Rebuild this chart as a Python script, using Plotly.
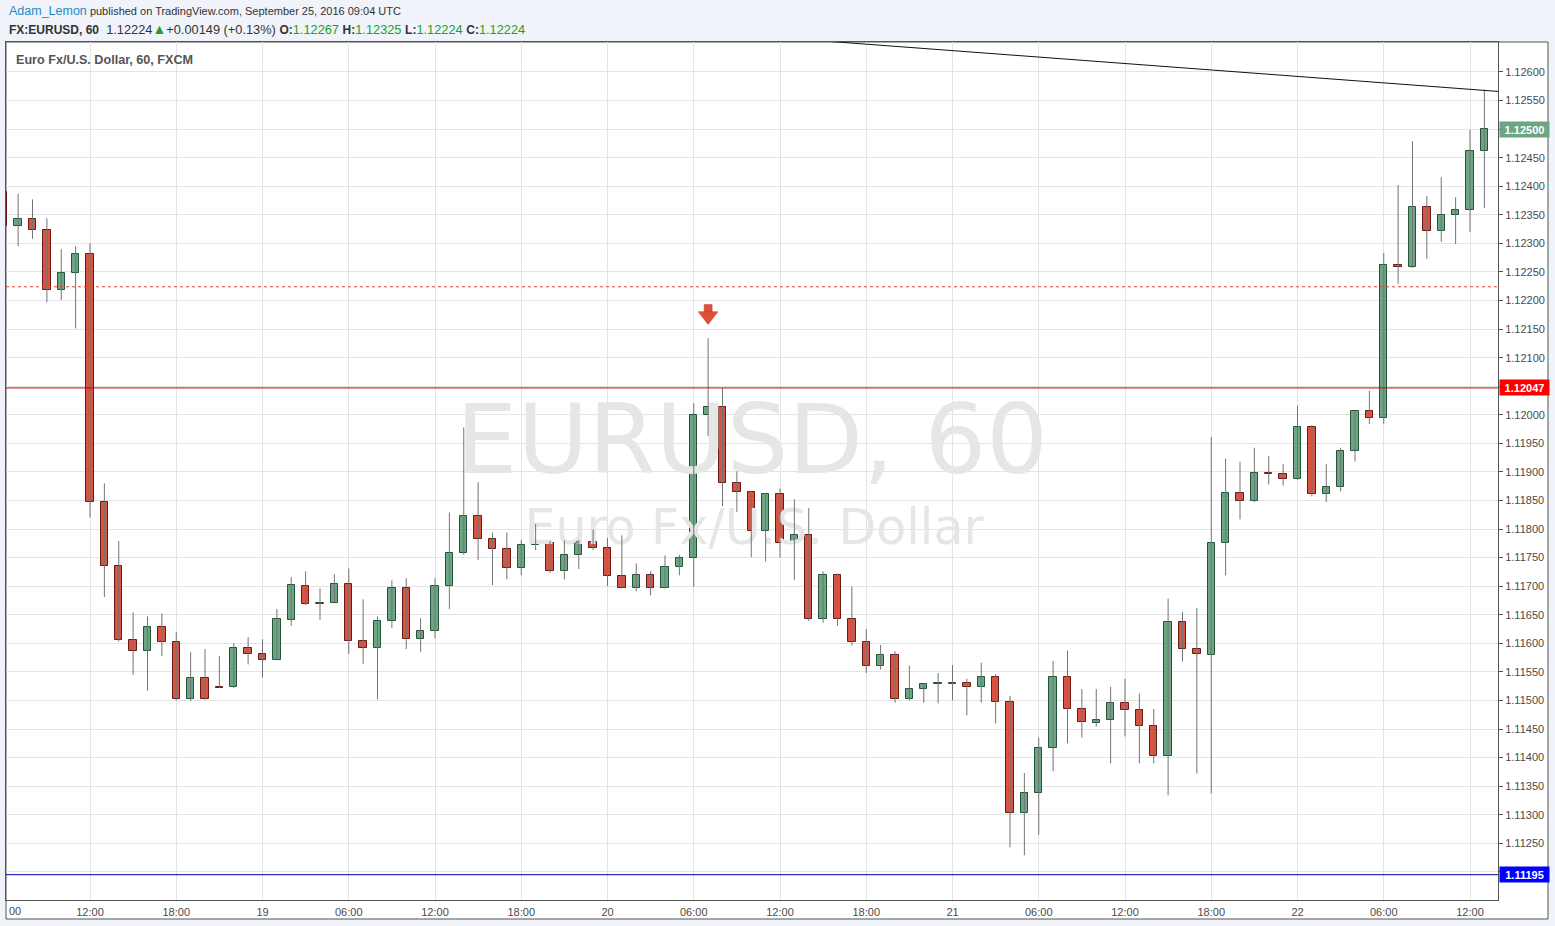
import plotly.graph_objects as go
import pandas as pd

# ---------------- data ----------------
start_time = "2016-09-18 06:00"   # first hourly candle (partly hidden at left edge)

opens = [1.12390, 1.12331, 1.12343, 1.12324, 1.12219, 1.12248, 1.12282, 1.11848, 1.11735, 1.11605,
         1.11586, 1.11629, 1.11602, 1.11502, 1.11539, 1.11524, 1.11523, 1.11591, 1.11581, 1.11571,
         1.11640, 1.11700, 1.11669, 1.11671, 1.11704, 1.11604, 1.11592, 1.11639, 1.11697, 1.11608,
         1.11622, 1.11701, 1.11758, 1.11823, 1.11783, 1.11765, 1.11732, 1.11772, 1.11775, 1.11727,
         1.11755, 1.11778, 1.11767, 1.11718, 1.11697, 1.11720, 1.11697, 1.11734, 1.11750, 1.11999,
         1.12014, 1.11880, 1.11864, 1.11797, 1.11862, 1.11775, 1.11789, 1.11642, 1.11719, 1.11642,
         1.11603, 1.11561, 1.11580, 1.11502, 1.11520, 1.11528, 1.11529, 1.11530, 1.11523, 1.11541,
         1.11497, 1.11303, 1.11338, 1.11416, 1.11541, 1.11485, 1.11461, 1.11465, 1.11495, 1.11483,
         1.11455, 1.11402, 1.11637, 1.11590, 1.11580, 1.11775, 1.11863, 1.11849, 1.11898, 1.11896,
         1.11887, 1.11978, 1.11861, 1.11873, 1.11936, 1.12006, 1.11994, 1.12263, 1.12258, 1.12363,
         1.12322, 1.12350, 1.12359, 1.12462]
highs = [1.12395, 1.12387, 1.12377, 1.12344, 1.12290, 1.12295, 1.12300, 1.11880, 1.11779, 1.11654,
         1.11647, 1.11652, 1.11620, 1.11585, 1.11590, 1.11578, 1.11600, 1.11611, 1.11607, 1.11660,
         1.11716, 1.11726, 1.11696, 1.11721, 1.11731, 1.11677, 1.11647, 1.11710, 1.11714, 1.11644,
         1.11714, 1.11829, 1.11978, 1.11882, 1.11794, 1.11794, 1.11781, 1.11809, 1.11779, 1.11780,
         1.11781, 1.11799, 1.11784, 1.11789, 1.11740, 1.11726, 1.11754, 1.11755, 1.12020, 1.12134,
         1.12047, 1.11901, 1.11867, 1.11863, 1.11871, 1.11852, 1.11837, 1.11726, 1.11722, 1.11699,
         1.11625, 1.11597, 1.11586, 1.11561, 1.11530, 1.11548, 1.11562, 1.11538, 1.11566, 1.11546,
         1.11508, 1.11373, 1.11435, 1.11569, 1.11587, 1.11520, 1.11520, 1.11524, 1.11538, 1.11512,
         1.11485, 1.11678, 1.11655, 1.11662, 1.11961, 1.11923, 1.11918, 1.11942, 1.11928, 1.11914,
         1.12016, 1.11982, 1.11914, 1.11942, 1.12007, 1.12042, 1.12283, 1.12402, 1.12479, 1.12383,
         1.12416, 1.12381, 1.12499, 1.12569]
lows = [1.12328, 1.12295, 1.12308, 1.12197, 1.12201, 1.12151, 1.11820, 1.11681, 1.11603, 1.11545,
        1.11517, 1.11578, 1.11500, 1.11499, 1.11501, 1.11522, 1.11522, 1.11563, 1.11540, 1.11570,
        1.11631, 1.11667, 1.11641, 1.11670, 1.11581, 1.11564, 1.11502, 1.11627, 1.11590, 1.11585,
        1.11609, 1.11660, 1.11755, 1.11746, 1.11702, 1.11712, 1.11719, 1.11763, 1.11723, 1.11712,
        1.11730, 1.11763, 1.11700, 1.11696, 1.11691, 1.11684, 1.11696, 1.11719, 1.11699, 1.11963,
        1.11840, 1.11830, 1.11751, 1.11743, 1.11750, 1.11711, 1.11639, 1.11636, 1.11631, 1.11596,
        1.11548, 1.11554, 1.11496, 1.11500, 1.11496, 1.11495, 1.11500, 1.11474, 1.11496, 1.11460,
        1.11243, 1.11229, 1.11265, 1.11376, 1.11425, 1.11435, 1.11454, 1.11390, 1.11437, 1.11390,
        1.11390, 1.11334, 1.11568, 1.11372, 1.11337, 1.11719, 1.11817, 1.11847, 1.11878, 1.11876,
        1.11886, 1.11857, 1.11847, 1.11866, 1.11918, 1.11984, 1.11984, 1.12229, 1.12257, 1.12273,
        1.12303, 1.12299, 1.12320, 1.12362]
closes = [1.12331, 1.12343, 1.12324, 1.12219, 1.12248, 1.12282, 1.11848, 1.11735, 1.11605, 1.11586,
          1.11629, 1.11602, 1.11502, 1.11539, 1.11502, 1.11522, 1.11591, 1.11581, 1.11571, 1.11642,
          1.11702, 1.11669, 1.11671, 1.11704, 1.11604, 1.11592, 1.11639, 1.11697, 1.11608, 1.11622,
          1.11701, 1.11758, 1.11823, 1.11783, 1.11765, 1.11732, 1.11772, 1.11774, 1.11727, 1.11755,
          1.11778, 1.11767, 1.11718, 1.11697, 1.11720, 1.11697, 1.11734, 1.11750, 1.11999, 1.12014,
          1.11880, 1.11864, 1.11797, 1.11862, 1.11775, 1.11789, 1.11642, 1.11719, 1.11642, 1.11603,
          1.11561, 1.11580, 1.11502, 1.11520, 1.11528, 1.11530, 1.11531, 1.11523, 1.11541, 1.11497,
          1.11303, 1.11338, 1.11416, 1.11541, 1.11485, 1.11462, 1.11466, 1.11495, 1.11483, 1.11455,
          1.11402, 1.11637, 1.11590, 1.11581, 1.11775, 1.11863, 1.11849, 1.11898, 1.11896, 1.11887,
          1.11978, 1.11861, 1.11873, 1.11936, 1.12006, 1.11994, 1.12263, 1.12258, 1.12363, 1.12322,
          1.12350, 1.12359, 1.12462, 1.12500]

# signal arrow (sell) on the spike candle
signal_time = "2016-09-20 07:00"

# drawn trend line (two anchor points)
trend_times = ["2016-09-20 12:00", "2016-09-22 13:57"]
trend_prices = [1.12660, 1.12566]

# horizontal levels
resistance_level = 1.12047
support_level = 1.11195
last_close_level = 1.12224
last_price_label = 1.12500

# axis ticks
price_ticks = ["1.11200", "1.11250", "1.11300", "1.11350", "1.11400", "1.11450", "1.11500",
               "1.11550", "1.11600", "1.11650", "1.11700", "1.11750", "1.11800", "1.11850",
               "1.11900", "1.11950", "1.12000", "1.12050", "1.12100", "1.12150", "1.12200",
               "1.12250", "1.12300", "1.12350", "1.12400", "1.12450", "1.12500", "1.12550",
               "1.12600"]
time_tick_vals = ["2016-09-18 12:00", "2016-09-18 18:00", "2016-09-19 00:00", "2016-09-19 06:00",
                  "2016-09-19 12:00", "2016-09-19 18:00", "2016-09-20 00:00", "2016-09-20 06:00",
                  "2016-09-20 12:00", "2016-09-20 18:00", "2016-09-21 00:00", "2016-09-21 06:00",
                  "2016-09-21 12:00", "2016-09-21 18:00", "2016-09-22 00:00", "2016-09-22 06:00",
                  "2016-09-22 12:00"]
time_tick_text = ["12:00", "18:00", "19", "06:00", "12:00", "18:00", "20", "06:00", "12:00",
                  "18:00", "21", "06:00", "12:00", "18:00", "22", "06:00", "12:00"]

# ---------------- layout geometry / style ----------------
W, H = 1555, 926
L, R, T, B = 6, 57, 42, 26
PW, PH = W - L - R, H - T - B
x_range = [pd.Timestamp("2016-09-18 06:09:24"), pd.Timestamp("2016-09-22 13:56:53")]
y_range = [1.111507, 1.126525]

def px_x(px):
    return (px - L) / PW

def px_y(py):
    return (T + PH - py) / PH

def data_x(px):
    return x_range[0] + (x_range[1] - x_range[0]) * px_x(px)

def data_y(py):
    f = px_y(py)
    return y_range[0] + (y_range[1] - y_range[0]) * f

UP_FILL, UP_LINE = "#6ba583", "#225437"
DN_FILL, DN_LINE = "#d75442", "#6b1a13"
WICK = "#737375"
GRID = "#e4e4e4"
AXIS_LINE = "#555555"
TXT = "#4a4a4a"
FONT = "Liberation Sans, Arial, sans-serif"

times = pd.date_range(start_time, periods=len(opens), freq="h")
up = [c >= o for o, c in zip(opens, closes)]

fig = go.Figure()

# watermark (below candles)
fig.add_trace(go.Scatter(
    x=[data_x(752), data_x(754)], y=[data_y(449), data_y(532)],
    mode="text", text=["EURUSD, 60", "Euro Fx/U.S. Dollar"],
    textfont=dict(family="DejaVu Sans", size=[97, 49], color="#e6e6e6"),
    hoverinfo="skip", showlegend=False, cliponaxis=False))

# wicks
wx, wy = [], []
for t, h, l in zip(times, highs, lows):
    wx += [t, t, None]
    wy += [l, h, None]
fig.add_trace(go.Scatter(x=wx, y=wy, mode="lines", line=dict(color=WICK, width=1),
                         hoverinfo="skip", showlegend=False))

# bodies
fig.add_trace(go.Bar(
    x=times,
    y=[max(abs(c - o), 0.000012) for o, c in zip(opens, closes)],
    base=[min(o, c) for o, c in zip(opens, closes)],
    width=0.52 * 3600 * 1000,
    marker=dict(color=[UP_FILL if u else DN_FILL for u in up],
                line=dict(color=[UP_LINE if u else DN_LINE for u in up], width=1)),
    showlegend=False, hoverinfo="skip"))

# trend line
fig.add_trace(go.Scatter(x=trend_times, y=trend_prices, mode="lines",
                         line=dict(color="#111111", width=1), showlegend=False, hoverinfo="skip"))

# sell arrow above signal candle
sig_idx = list(times).index(pd.Timestamp(signal_time))
sig_high = highs[sig_idx]
fig.add_trace(go.Scatter(x=[times[sig_idx]], y=[sig_high + 0.00052], mode="markers",
                         marker=dict(symbol="square", size=8, color="#e05038",
                                     line=dict(color="#c0392b", width=0.5)),
                         showlegend=False, hoverinfo="skip"))
fig.add_trace(go.Scatter(x=[times[sig_idx]], y=[sig_high + 0.00039], mode="markers",
                         marker=dict(symbol="triangle-down", size=17, color="#e05038",
                                     line=dict(color="#c0392b", width=0.5)),
                         showlegend=False, hoverinfo="skip"))

# horizontal level lines
shapes = [
    dict(type="rect", xref="paper", yref="paper", x0=px_x(6), x1=px_x(1548), y0=px_y(919), y1=px_y(42),
         fillcolor="white", line=dict(color=AXIS_LINE, width=1), layer="below"),
    dict(type="line", xref="paper", yref="y", x0=0, x1=1, y0=resistance_level, y1=resistance_level,
         line=dict(color="#c80000", width=1)),
    dict(type="line", xref="paper", yref="y", x0=0, x1=1, y0=support_level, y1=support_level,
         line=dict(color="#0000a0", width=1)),
    dict(type="line", xref="paper", yref="y", x0=0, x1=1, y0=last_close_level, y1=last_close_level,
         line=dict(color="#e8432f", width=1, dash="dot")),
]

# price label boxes on axis
label_levels = [(last_price_label, UP_FILL), (resistance_level, "#ff0000"), (support_level, "#0000ff")]
annotations = []
for lvl, col in label_levels:
    annotations.append(dict(xref="paper", yref="y", x=px_x(1499), y=lvl, xanchor="left", yanchor="middle",
                            text="<b>%.5f</b>" % lvl, showarrow=False, bgcolor=col,
                            font=dict(family=FONT, size=11, color="white"),
                            width=45, height=11, borderpad=2, align="center"))

tick_vals = [float(v) for v in price_ticks]
tick_text = ["" if any(abs(v - lv) < 0.00012 for lv, _ in label_levels) else s
             for v, s in zip(tick_vals, price_ticks)]

# header texts
annotations.append(dict(xref="paper", yref="paper", x=px_x(7), y=px_y(11), xanchor="left", yanchor="middle",
                        showarrow=False, font=dict(family=FONT, size=11, color="#333333"),
                        text="<span style='color:#1e88c8;font-size:12.5px'>Adam_Lemon</span> "
                             "published on TradingView.com, September 25, 2016 09:04 UTC"))
G = "#22a022"
annotations.append(dict(xref="paper", yref="paper", x=px_x(7), y=px_y(29), xanchor="left", yanchor="middle",
                        showarrow=False, font=dict(family=FONT, size=12.8, color="#333333"),
                        text="<b style='font-size:12px'>FX:EURUSD, 60</b>  1.12224"
                             "<span style='color:%s;font-size:14px'>▲</span>+0.00149 (+0.13%%) "
                             "<b style='font-size:12px'>O:</b><span style='color:%s'>1.12267</span> "
                             "<b style='font-size:12px'>H:</b><span style='color:%s'>1.12325</span> "
                             "<b style='font-size:12px'>L:</b><span style='color:%s'>1.12224</span> "
                             "<b style='font-size:12px'>C:</b><span style='color:%s'>1.12224</span>"
                             % (G, G, G, G, G)))
annotations.append(dict(xref="paper", yref="paper", x=px_x(14), y=px_y(60), xanchor="left", yanchor="middle",
                        showarrow=False, font=dict(family=FONT, size=12.6, color="#555555"),
                        text="<b>Euro Fx/U.S. Dollar, 60, FXCM</b>"))
# clipped first time label at the left edge
annotations.append(dict(xref="paper", yref="paper", x=px_x(7), y=px_y(911), xanchor="left", yanchor="middle",
                        showarrow=False, font=dict(family=FONT, size=11, color=TXT), text="00"))

fig.update_layout(
    width=W, height=H, autosize=False,
    margin=dict(l=L, r=R, t=T, b=B, pad=0),
    paper_bgcolor="#f0f3fa", plot_bgcolor="white",
    showlegend=False, shapes=shapes, annotations=annotations,
    bargap=0,
    xaxis=dict(type="date", range=x_range, tickvals=time_tick_vals, ticktext=time_tick_text,
               showgrid=True, gridcolor=GRID, gridwidth=1, zeroline=False,
               showline=True, linecolor=AXIS_LINE, linewidth=1, mirror=True,
               ticks="", tickfont=dict(family=FONT, size=11, color=TXT), ticklabelstandoff=2,
               rangeslider=dict(visible=False), fixedrange=True),
    yaxis=dict(side="right", range=y_range, tickvals=tick_vals, ticktext=tick_text,
               showgrid=True, gridcolor=GRID, gridwidth=1, zeroline=False,
               showline=True, linecolor=AXIS_LINE, linewidth=1, mirror=True,
               ticks="outside", ticklen=4, tickcolor=AXIS_LINE,
               tickfont=dict(family=FONT, size=11, color=TXT), fixedrange=True),
)

fig.write_html("out.html", config={"displayModeBar": False},
               post_script="document.body.style.margin='0';document.body.style.overflow='hidden';")
